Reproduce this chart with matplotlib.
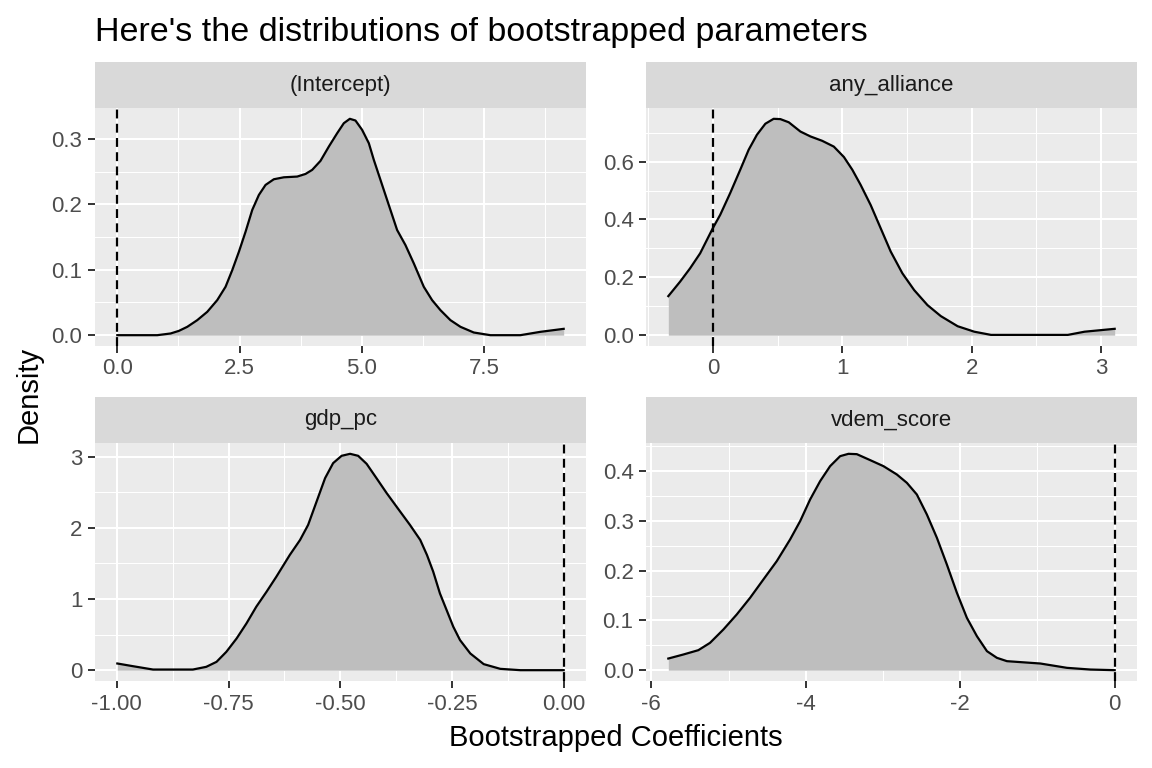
import matplotlib
matplotlib.use("Agg")
import matplotlib.pyplot as plt
import numpy as np

plt.rcParams['font.family'] = ['Liberation Sans', 'DejaVu Sans']

# ---- data ----
facets = ["(Intercept)", "any_alliance", "gdp_pc", "vdem_score"]

intercept_x = [0.0, 0.817, 1.089, 1.259, 1.430, 1.634, 1.838, 2.042, 2.212, 2.349, 2.485, 2.621, 2.757, 2.893,
               3.029, 3.199, 3.404, 3.676, 3.846, 3.982, 4.152, 4.323, 4.493, 4.629, 4.752, 4.867, 5.003,
               5.140, 5.242, 5.378, 5.514, 5.718, 5.888, 6.059, 6.263, 6.433, 6.603, 6.807, 7.012, 7.284,
               7.624, 8.237, 8.645, 9.122]
intercept_y = [0.0, 0.0, 0.0026, 0.0066, 0.0128, 0.0230, 0.0357, 0.0536, 0.0740, 0.0995, 0.1276, 0.1582,
               0.1914, 0.2144, 0.2297, 0.2384, 0.2414, 0.2425, 0.2465, 0.2527, 0.2665, 0.2884, 0.3088,
               0.3241, 0.3308, 0.3282, 0.3139, 0.2935, 0.2680, 0.2374, 0.2067, 0.1608, 0.1378, 0.1098,
               0.0740, 0.0536, 0.0383, 0.0230, 0.0128, 0.0041, 0.0, 0.0, 0.0051, 0.0097]

alliance_x = [-0.344, -0.253, -0.176, -0.098, 0.0, 0.057, 0.134, 0.212, 0.277, 0.341, 0.406, 0.470, 0.522,
              0.587, 0.677, 0.755, 0.845, 0.935, 1.013, 1.078, 1.142, 1.220, 1.297, 1.375, 1.465, 1.556,
              1.659, 1.762, 1.892, 2.021, 2.150, 2.744, 2.873, 3.106]
alliance_y = [0.135, 0.185, 0.231, 0.283, 0.370, 0.416, 0.491, 0.572, 0.641, 0.693, 0.731, 0.748, 0.747,
              0.736, 0.704, 0.687, 0.672, 0.652, 0.616, 0.572, 0.520, 0.450, 0.370, 0.289, 0.214, 0.156,
              0.104, 0.066, 0.031, 0.012, 0.001, 0.001, 0.012, 0.022]

gdp_x = [-0.999, -0.964, -0.919, -0.830, -0.800, -0.777, -0.755, -0.732, -0.710, -0.688, -0.665, -0.643,
         -0.613, -0.590, -0.572, -0.553, -0.534, -0.516, -0.497, -0.478, -0.460, -0.441, -0.419, -0.396,
         -0.366, -0.344, -0.321, -0.306, -0.292, -0.277, -0.262, -0.247, -0.232, -0.209, -0.179, -0.142,
         -0.097, 0.0]
gdp_y = [0.094, 0.056, 0.009, 0.009, 0.047, 0.117, 0.258, 0.446, 0.657, 0.892, 1.103, 1.315, 1.620, 1.831,
         2.042, 2.371, 2.700, 2.911, 3.014, 3.042, 3.014, 2.901, 2.700, 2.488, 2.230, 2.042, 1.831, 1.620,
         1.385, 1.080, 0.845, 0.610, 0.423, 0.235, 0.085, 0.019, 0.0, 0.0]

vdem_x = [-5.780, -5.585, -5.391, -5.240, -5.067, -4.894, -4.721, -4.549, -4.376, -4.203, -4.073, -3.944,
          -3.814, -3.685, -3.555, -3.447, -3.339, -3.166, -2.994, -2.821, -2.691, -2.562, -2.432, -2.302,
          -2.173, -2.043, -1.914, -1.784, -1.654, -1.525, -1.395, -0.963, -0.618, -0.315, 0.0]
vdem_y = [0.0234, 0.0315, 0.0402, 0.0549, 0.0817, 0.1119, 0.1454, 0.1822, 0.2190, 0.2626, 0.2994, 0.3429,
          0.3798, 0.4099, 0.4300, 0.4347, 0.4340, 0.4220, 0.4099, 0.3932, 0.3764, 0.3530, 0.3128, 0.2659,
          0.2123, 0.1554, 0.1052, 0.0683, 0.0382, 0.0248, 0.0181, 0.0134, 0.0047, 0.0013, 0.0]

x_breaks = [[0, 2.5, 5, 7.5], [0, 1, 2, 3], [-1.0, -0.75, -0.5, -0.25, 0.0], [-6, -4, -2, 0]]
x_labels = [["0.0", "2.5", "5.0", "7.5"], ["0", "1", "2", "3"],
            ["-1.00", "-0.75", "-0.50", "-0.25", "0.00"], ["-6", "-4", "-2", "0"]]
y_breaks = [[0, 0.1, 0.2, 0.3], [0, 0.2, 0.4, 0.6], [0, 1, 2, 3], [0, 0.1, 0.2, 0.3, 0.4]]
y_labels = [["0.0", "0.1", "0.2", "0.3"], ["0.0", "0.2", "0.4", "0.6"], ["0", "1", "2", "3"],
            ["0.0", "0.1", "0.2", "0.3", "0.4"]]

xs = [intercept_x, alliance_x, gdp_x, vdem_x]
ys = [intercept_y, alliance_y, gdp_y, vdem_y]

# ---- figure ----
W, H = 1152, 768
fig = plt.figure(figsize=(W / 100, H / 100), dpi=100)

cols = [(95, 586), (646, 1137)]
rows = [((62, 108), (108, 346)), ((397, 443), (443, 681))]

def fr(x0, x1, y0, y1):
    return [x0 / W, 1 - y1 / H, (x1 - x0) / W, (y1 - y0) / H]

tick_fs = 16
for i, name in enumerate(facets):
    r, c = divmod(i, 2)
    (sy0, sy1), (py0, py1) = rows[r]
    x0, x1 = cols[c]
    # strip
    sax = fig.add_axes(fr(x0, x1, sy0, sy1))
    sax.set_facecolor('#D9D9D9')
    sax.set_xticks([]); sax.set_yticks([])
    for s in sax.spines.values():
        s.set_visible(False)
    sax.text(0.5, 0.5, name, ha='center', va='center', fontsize=tick_fs, color='#1A1A1A',
             transform=sax.transAxes)
    # panel
    ax = fig.add_axes(fr(x0, x1, py0, py1))
    ax.set_facecolor('#EBEBEB')
    for s in ax.spines.values():
        s.set_visible(False)
    x = np.array(xs[i]); y = np.array(ys[i])
    ax.fill_between(x, 0, y, color='#BEBEBE', linewidth=0, zorder=2)
    ax.plot(x, y, color='black', lw=1.6, zorder=3, solid_joinstyle='round')
    ax.axvline(0, color='black', lw=1.6, linestyle=(0, (4, 2.4)), zorder=4)

    lo, hi = min(x.min(), 0), max(x.max(), 0)
    pad = 0.05 * (hi - lo)
    ymax = y.max()

    xb = x_breaks[i]; yb = y_breaks[i]
    ax.set_xticks(xb); ax.set_xticklabels(x_labels[i])
    ax.set_yticks(yb); ax.set_yticklabels(y_labels[i])
    dx = xb[1] - xb[0]; dy = yb[1] - yb[0]
    xmin_ = [xb[0] - dx / 2] + [b + dx / 2 for b in xb]
    ymin_ = [yb[0] - dy / 2] + [b + dy / 2 for b in yb]
    ax.set_xticks(xmin_, minor=True)
    ax.set_yticks(ymin_, minor=True)
    ax.set_xlim(lo - pad, hi + pad)
    ax.set_ylim(-0.05 * ymax, ymax * 1.05)
    ax.grid(which='major', color='white', lw=1.5, zorder=0)
    ax.grid(which='minor', color='white', lw=0.75, zorder=0)
    ax.set_axisbelow(True)
    ax.tick_params(which='major', length=5, width=1.4, color='#333333', labelsize=tick_fs,
                   labelcolor='#4D4D4D', pad=4)
    ax.tick_params(which='minor', length=0)

fig.text(95 / W, 1 - 40.5 / H, "Here's the distributions of bootstrapped parameters",
         fontsize=24.5, color='black', ha='left', va='baseline')
fig.text(((95 + 1137) / 2) / W, 1 - 746 / H, "Bootstrapped Coefficients", fontsize=21,
         color='black', ha='center', va='baseline')
fig.text(29 / W, 1 - 394.5 / H, "Density", fontsize=21, color='black', rotation=90,
         ha='center', va='center')

fig.savefig('out.png', dpi=100, facecolor='white')
